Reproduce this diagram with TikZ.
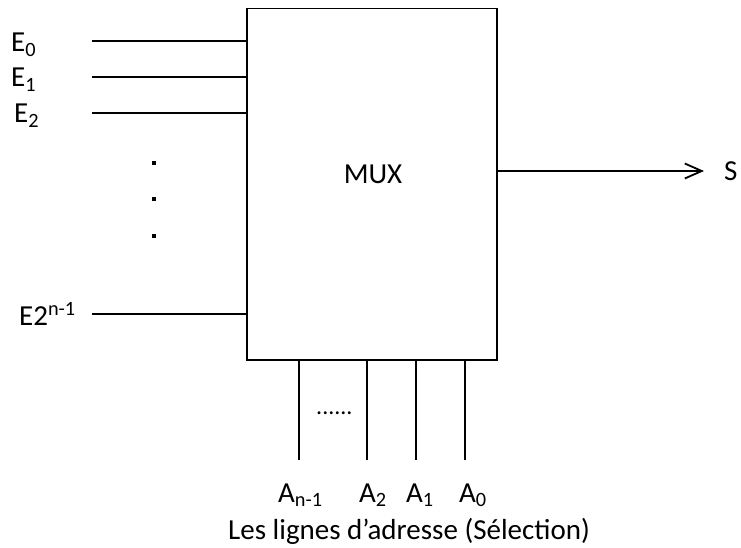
\documentclass[tikz,border=0pt]{standalone}
\usepackage{fontspec}
\setmainfont{Carlito}
\usetikzlibrary{arrows.meta}
\begin{document}
\begin{tikzpicture}[x=1pt,y=-1pt,
  wire/.style={line width=1.8pt},
  lbl/.style={font=\fontsize{29}{34}\selectfont, inner sep=0pt, anchor=base west},
  dotmark/.style={rectangle, fill=black, inner sep=0pt, minimum size=4.2pt}]
\useasboundingbox (0,0) rectangle (741,548);
% multiplexer block
\node[draw, line width=1.5pt, minimum width=250pt, minimum height=351pt, inner sep=0pt,
      anchor=north west] (mux) at (246,8) {};
\node[lbl, anchor=base] (muxtxt) at (373,183) {MUX};
% data inputs
\node[lbl] (e0) at (11,52) {E\textsubscript{0}};
\node[lbl] (e1) at (11,87) {E\textsubscript{1}};
\node[lbl] (e2) at (14,123) {E\textsubscript{2}};
\node[lbl] (en) at (19,325) {E2\textsuperscript{n-1}};
\coordinate (i0) at (92,41);
\coordinate (i1) at (92,77);
\coordinate (i2) at (92,113);
\coordinate (in) at (92,314);
\foreach \c in {i0,i1,i2,in}
  \draw[wire] (\c) -- (mux.west |- \c);
% vertical ellipsis between the inputs
\node[dotmark] (d1) at (154,163) {};
\node[dotmark] (d2) at (154,199) {};
\node[dotmark] (d3) at (154,236) {};
% output
\node[lbl] (s) at (724,181) {S};
\coordinate (o) at (704,171);
\draw[wire, -{Straight Barb[length=17pt,width=15pt,line width=1.8pt]}] (mux.east |- o) -- (o);
% address lines
\coordinate (a3) at (299,460);
\coordinate (a2) at (367,460);
\coordinate (a1) at (416,460);
\coordinate (a0) at (465,460);
\foreach \c in {a3,a2,a1,a0}
  \draw[wire] (mux.south -| \c) -- (\c);
\node[lbl, font=\fontsize{24}{28}\selectfont] (adots) at (316,414) {......};
\node[lbl] (an) at (278,502) {A\textsubscript{n-1}};
\node[lbl] (at2) at (359,502) {A\textsubscript{2}};
\node[lbl] (at1) at (406,502) {A\textsubscript{1}};
\node[lbl] (at0) at (459,502) {A\textsubscript{0}};
\node[lbl] (sel) at (228,539) {Les lignes d’adresse (Sélection)};
\end{tikzpicture}
\end{document}
